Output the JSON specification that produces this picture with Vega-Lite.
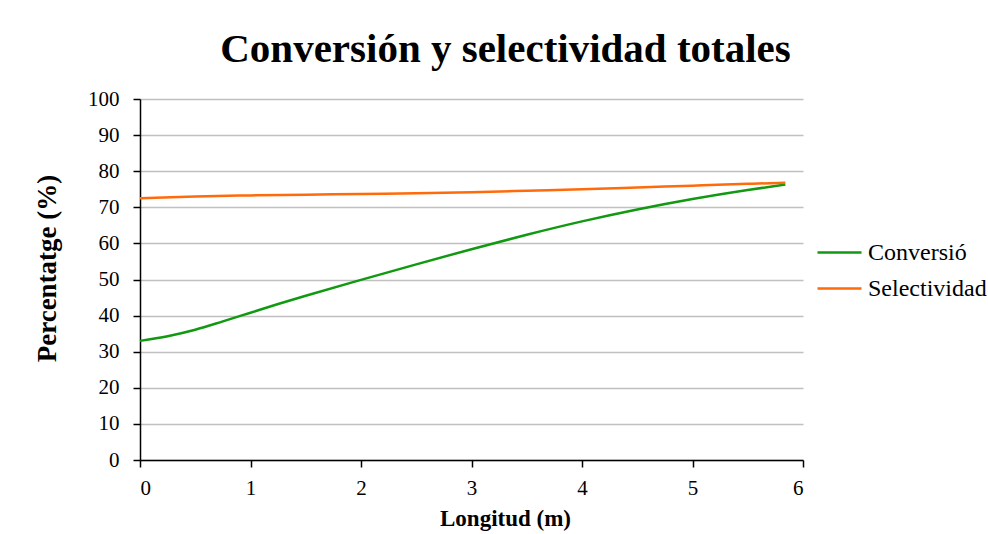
{
  "$schema": "https://vega.github.io/schema/vega-lite/v6.json",
  "width": 663,
  "height": 361,
  "autosize": {"type": "none"},
  "padding": {"left": 140, "top": 99, "right": 185, "bottom": 74},
  "background": "white",
  "title": {
    "text": "Conversión y selectividad totales",
    "font": "Liberation Serif",
    "fontSize": 41,
    "fontWeight": "bold",
    "color": "black",
    "anchor": "middle",
    "dx": 34,
    "offset": 17
  },
  "data": {
    "values": [
      {"x": 0, "serie": "Conversió", "y": 33.0},
      {"x": 0.25, "serie": "Conversió", "y": 34.3},
      {"x": 0.5, "serie": "Conversió", "y": 36.1},
      {"x": 0.75, "serie": "Conversió", "y": 38.4},
      {"x": 1, "serie": "Conversió", "y": 40.8},
      {"x": 1.25, "serie": "Conversió", "y": 43.2},
      {"x": 1.5, "serie": "Conversió", "y": 45.5},
      {"x": 2, "serie": "Conversió", "y": 49.9},
      {"x": 2.5, "serie": "Conversió", "y": 54.2},
      {"x": 3, "serie": "Conversió", "y": 58.4},
      {"x": 3.5, "serie": "Conversió", "y": 62.4},
      {"x": 4, "serie": "Conversió", "y": 66.1},
      {"x": 4.5, "serie": "Conversió", "y": 69.4},
      {"x": 5, "serie": "Conversió", "y": 72.3},
      {"x": 5.5, "serie": "Conversió", "y": 74.8},
      {"x": 5.84, "serie": "Conversió", "y": 76.3},
      {"x": 0, "serie": "Selectividad", "y": 72.5},
      {"x": 0.5, "serie": "Selectividad", "y": 73.0},
      {"x": 1, "serie": "Selectividad", "y": 73.3},
      {"x": 1.5, "serie": "Selectividad", "y": 73.5},
      {"x": 2, "serie": "Selectividad", "y": 73.7},
      {"x": 2.5, "serie": "Selectividad", "y": 73.9},
      {"x": 3, "serie": "Selectividad", "y": 74.2},
      {"x": 3.5, "serie": "Selectividad", "y": 74.6},
      {"x": 4, "serie": "Selectividad", "y": 75.0},
      {"x": 4.5, "serie": "Selectividad", "y": 75.5},
      {"x": 5, "serie": "Selectividad", "y": 76.0},
      {"x": 5.5, "serie": "Selectividad", "y": 76.5},
      {"x": 5.84, "serie": "Selectividad", "y": 76.8}
    ]
  },
  "mark": {"type": "line", "interpolate": "monotone", "strokeWidth": 2.5},
  "encoding": {
    "x": {
      "field": "x",
      "type": "quantitative",
      "scale": {"domain": [0, 6], "nice": false},
      "axis": {
        "title": "Longitud (m)",
        "values": [0, 1, 2, 3, 4, 5, 6],
        "format": "d",
        "grid": false,
        "titleX": 365,
        "titleFontSize": 23,
        "labelPadding": 10,
        "titlePadding": 9
      }
    },
    "y": {
      "field": "y",
      "type": "quantitative",
      "scale": {"domain": [0, 100], "nice": false},
      "axis": {
        "title": "Percentatge (%)",
        "values": [0, 10, 20, 30, 40, 50, 60, 70, 80, 90, 100],
        "grid": true,
        "labelPadding": 14,
        "titleFontSize": 27,
        "titleX": -93,
        "titleY": 169,
        "titleAngle": -90,
        "titleBaseline": "middle",
        "titleAlign": "center"
      }
    },
    "color": {
      "field": "serie",
      "type": "nominal",
      "scale": {"domain": ["Conversió", "Selectividad"], "range": ["#119911", "#ff6a0a"]},
      "legend": {
        "title": null,
        "orient": "none",
        "legendX": 676,
        "legendY": 130,
        "symbolType": "stroke",
        "symbolSize": 1936,
        "symbolStrokeWidth": 2.5,
        "labelFont": "Liberation Serif",
        "labelFontSize": 24,
        "labelColor": "black",
        "labelOffset": 5,
        "rowPadding": 0,
        "labelLimit": 300
      }
    }
  },
  "config": {
    "view": {"stroke": null},
    "axis": {
      "domainColor": "black",
      "domainWidth": 1.5,
      "tickColor": "black",
      "tickWidth": 1.5,
      "tickSize": 7,
      "labelFont": "Liberation Serif",
      "labelFontSize": 21,
      "labelColor": "black",
      "titleFont": "Liberation Serif",
      "titleFontSize": 22,
      "titleFontWeight": "bold",
      "titleColor": "black",
      "gridColor": "#c0c0c0",
      "gridWidth": 1.5
    }
  }
}
